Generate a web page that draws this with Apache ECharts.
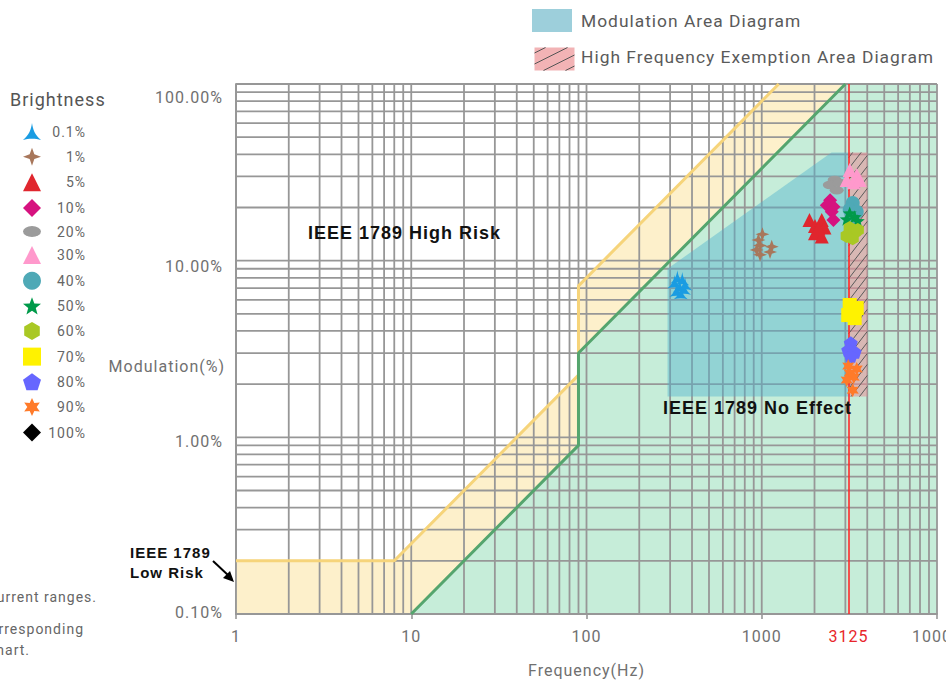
<!DOCTYPE html>
<html>
<head>
<meta charset="utf-8">
<script src="https://cdn.jsdelivr.net/npm/echarts@6/dist/echarts.min.js"></script>
<style>
  html, body { margin: 0; padding: 0; background: #ffffff; }
  #chart { width: 946px; height: 680px; }
  #chart svg text { letter-spacing: 1px; }
</style>
</head>
<body>
<div id="chart"></div>
<script>
// Axis ranges (frequency in Hz, modulation in %)
const X_MIN = 1, X_MAX = 10000;
const Y_MIN = 0.1, Y_MAX = 100;
const exemptFrequency = 3125;

// Brightness levels shown in the legend
const brightnessLevels = ['0.1%', '1%', '5%', '10%', '20%', '30%', '40%', '50%', '60%', '70%', '80%', '90%', '100%'];

// Measured points per brightness level: [frequency Hz, modulation %]
const b0_1 = [[318, 7.6], [330, 8.1], [340, 7.2], [352, 7.9], [360, 7.0], [326, 6.8], [345, 6.6], [365, 7.4]];
const b1 = [[1009, 14.1], [957, 13.1], [978, 12.2], [978, 10.8], [1140, 12.0], [1115, 11.2], [936, 11.5]];
const b5 = [[1872, 17.0], [2013, 15.7], [2199, 17.0], [2279, 15.4], [2013, 14.3], [2199, 13.7], [2105, 15.2]];
const b10 = [[2455, 22.0], [2351, 20.6], [2565, 20.2], [2509, 18.9], [2565, 17.0]];
const b20 = [[2605, 28.6], [2445, 26.8], [2785, 27.5], [2677, 25.0]];
const b30 = [[3175, 32.6], [3483, 30.5], [3053, 28.6], [3348, 27.8], [3622, 28.6]];
const b40 = [[3303, 21.2], [3175, 19.4], [3483, 18.9], [3260, 17.4]];
const b50 = [[3175, 18.6], [3390, 17.7], [3053, 17.2], [3533, 16.8]];
const b60 = [[3175, 15.3], [3390, 14.5], [3053, 13.8], [3303, 13.4], [3533, 14.9]];
const b70 = [[3175, 5.61], [3483, 5.39], [3115, 4.92], [3390, 4.73], [3260, 5.25]];
const b80 = [[3220, 3.42], [3115, 3.12], [3390, 3.04], [3220, 2.88]];
const b90 = [[3115, 2.53], [3483, 2.44], [3175, 2.31], [3348, 2.19], [3053, 2.11], [3303, 1.85]];
const b100 = [];

// IEEE 1789 boundary curves
const lowRiskLine = [[1, 0.2], [8, 0.2], [90, 2.25], [90, 7.2], [1250, 100]];
const noEffectLine = [[10, 0.1], [90, 0.9], [90, 3], [3000, 100]];
// Filled zones (polygons in data units)
const lowRiskArea = [[1, 0.1], [1, 0.2], [8, 0.2], [90, 2.25], [90, 7.2], [1250, 100], [10000, 100], [10000, 0.1]];
const noEffectArea = [[10, 0.1], [90, 0.9], [90, 3], [3000, 100], [10000, 100], [10000, 0.1]];
const modulationArea = [[290, 1.7], [290, 9.0], [2500, 41], [3125, 41], [3125, 1.7]];
const exemptArea = [[3125, 1.7], [3125, 41], [4000, 41], [4000, 1.7]];

// Log grid values (1..9 per decade)
const xGrid = [], yGrid = [];
for (let d = 1; d < X_MAX; d *= 10) for (let k = 1; k <= 9; k++) xGrid.push(k * d);
xGrid.push(X_MAX);
for (let d = 0.1; d < Y_MAX - 1e-9; d *= 10) for (let k = 1; k <= 9; k++) yGrid.push(+(k * d).toPrecision(6));
yGrid.push(Y_MAX);

// Marker shapes
function polyPath(n, r, rot) {
  let s = '';
  for (let i = 0; i < n; i++) {
    const a = rot + i * 2 * Math.PI / n;
    s += (i ? 'L' : 'M') + (r + r * Math.cos(a)).toFixed(2) + ',' + (r + r * Math.sin(a)).toFixed(2);
  }
  return 'path://' + s + 'Z';
}
function starPath(n, r, ri) {
  let s = '';
  for (let i = 0; i < 2 * n; i++) {
    const a = -Math.PI / 2 + i * Math.PI / n;
    const rr = i % 2 ? ri : r;
    s += (i ? 'L' : 'M') + (r + rr * Math.cos(a)).toFixed(2) + ',' + (r + rr * Math.sin(a)).toFixed(2);
  }
  return 'path://' + s + 'Z';
}
const symbols = [
  'path://M10,0 C11,7 13,13 20,19 C14,17 6,17 0,19 C7,13 9,7 10,0 Z',
  'path://M10,0 L12.6,7.4 L20,10 L12.6,12.6 L10,20 L7.4,12.6 L0,10 L7.4,7.4 Z',
  'triangle',
  'diamond',
  'path://M0,6 A10,6 0 1,1 20,6 A10,6 0 1,1 0,6 Z',
  'triangle',
  'circle',
  starPath(5, 10, 4.2),
  polyPath(6, 10, Math.PI / 2),
  'rect',
  polyPath(5, 10, -Math.PI / 2),
  starPath(6, 10, 5.2),
  'diamond'
];
const colors = ['#1a9ce2', '#a8775b', '#e0262e', '#d6127f', '#9b9b9b', '#ff99cc', '#4fa9b6', '#009a4a', '#a9c824', '#fff200', '#6666ff', '#ff7b2a', '#000000'];
const pointSets = [b0_1, b1, b5, b10, b20, b30, b40, b50, b60, b70, b80, b90, b100];

function areaSeries(points, fill, z) {
  return {
    type: 'custom', silent: true, z: z, clip: true,
    data: [points[0]],
    renderItem: function (p, api) {
      return { type: 'polygon', shape: { points: points.map(pt => api.coord(pt)) }, style: { fill: fill } };
    }
  };
}
function gridSeries(values, vertical) {
  return {
    type: 'custom', silent: true, z: 3,
    data: values.map(v => vertical ? [v, Y_MIN] : [X_MIN, v]),
    renderItem: function (p, api) {
      const v = api.value(vertical ? 0 : 1);
      const a = vertical ? api.coord([v, Y_MIN]) : api.coord([X_MIN, v]);
      const b = vertical ? api.coord([v, Y_MAX]) : api.coord([X_MAX, v]);
      return { type: 'line', shape: { x1: a[0], y1: a[1], x2: b[0], y2: b[1] }, style: { stroke: '#979797', lineWidth: 1.8 } };
    }
  };
}
// Diagonal hatch segments inside a rectangle: y = b - k*x
function hatch(x0, y0, x1, y1, k, step, stroke) {
  const out = [];
  for (let b = y0 + k * x0 + step / 2; b < y1 + k * x1; b += step) {
    const xa = Math.max(x0, (b - y1) / k), xb = Math.min(x1, (b - y0) / k);
    if (xa < xb) out.push({ type: 'line', shape: { x1: xa, y1: b - k * xa, x2: xb, y2: b - k * xb }, style: { stroke: stroke, lineWidth: 1 } });
  }
  return out;
}

const series = [
  areaSeries(lowRiskArea, '#fdf0cb', 1),
  areaSeries(noEffectArea, '#c6edd9', 2),
  gridSeries(xGrid, true),
  gridSeries(yGrid, false),
  areaSeries(modulationArea, 'rgba(80,178,205,0.44)', 4),
  {
    type: 'custom', silent: true, z: 4,
    data: [exemptArea[0]],
    renderItem: function (p, api) {
      const pts = exemptArea.map(pt => api.coord(pt));
      const xs = pts.map(q => q[0]), ys = pts.map(q => q[1]);
      const x0 = Math.min.apply(null, xs), x1 = Math.max.apply(null, xs);
      const y0 = Math.min.apply(null, ys), y1 = Math.max.apply(null, ys);
      return {
        type: 'group',
        children: [{ type: 'polygon', shape: { points: pts }, style: { fill: 'rgba(232,140,150,0.55)' } }]
          .concat(hatch(x0, y0, x1, y1, 1.3, 11, '#5a5a5a'))
      };
    }
  },
  {
    type: 'line', silent: true, z: 5, data: lowRiskLine, showSymbol: false, symbol: 'none',
    lineStyle: { color: '#f6d47a', width: 3 }
  },
  {
    type: 'line', silent: true, z: 5, data: noEffectLine, showSymbol: false, symbol: 'none',
    lineStyle: { color: '#55a56e', width: 3 },
    markLine: {
      silent: true, symbol: ['none', 'none'],
      lineStyle: { color: '#ff2a2a', width: 1.6, type: 'solid' },
      label: { show: true, position: 'start', formatter: String(exemptFrequency), color: '#e8262b', fontSize: 16, fontFamily: 'Roboto, sans-serif', distance: 14 },
      data: [{ xAxis: exemptFrequency }]
    }
  }
];
brightnessLevels.forEach(function (name, i) {
  series.push({
    type: 'scatter', name: name, z: 6, data: pointSets[i],
    symbol: symbols[i], symbolSize: 14, symbolKeepAspect: true,
    itemStyle: { color: colors[i], opacity: 1 }
  });
});

const chart = echarts.init(document.getElementById('chart'), null, { renderer: 'svg' });
const labelFont = 'Roboto, "Noto Sans", sans-serif';
const boldFont = '"Liberation Sans", Arial, sans-serif';
// y tick labels sit a little below their grid lines
const yLabelBase = { color: '#707070', fontSize: 16, fontFamily: labelFont };
const yLabelRich = {
  t100: Object.assign({ padding: [26, 0, 0, 0] }, yLabelBase),
  t10: Object.assign({ padding: [12, 0, 0, 0] }, yLabelBase),
  t1: Object.assign({ padding: [8, 0, 0, 0] }, yLabelBase),
  t01: Object.assign({ padding: [0, 0, 4, 0] }, yLabelBase)
};
function yLabelKey(v) {
  if (v >= 50) return 't100';
  if (v >= 5) return 't10';
  if (v >= 0.5) return 't1';
  return 't01';
}
chart.setOption({
  animation: false,
  backgroundColor: '#ffffff',
  grid: { left: 236, right: 9, top: 84, bottom: 66, containLabel: false, outerBoundsMode: 'none' },
  title: {
    text: 'Brightness', left: 10, top: 90, padding: 0,
    textStyle: { fontSize: 18, fontWeight: 'normal', color: '#555', fontFamily: labelFont }
  },
  legend: {
    orient: 'vertical', left: 23, top: 123, padding: 0, itemWidth: 18, itemHeight: 18, itemGap: 7.6,
    selectedMode: false, data: brightnessLevels,
    formatter: function (n) { return '{v|' + n + '}'; },
    textStyle: {
      color: '#666', fontSize: 14, fontFamily: labelFont,
      rich: { v: { width: 40, align: 'right', color: '#666', fontSize: 14, fontFamily: labelFont } }
    }
  },
  xAxis: {
    type: 'log', logBase: 10, min: X_MIN, max: X_MAX,
    axisLine: { show: true, lineStyle: { color: '#979797', width: 1.8 } },
    axisTick: { show: true, length: 5, lineStyle: { color: '#979797', width: 1.6 } },
    axisLabel: {
      color: '#707070', fontSize: 16, fontFamily: labelFont, margin: 14,
      formatter: function (v) { return String(Math.round(v)); }
    },
    splitLine: { show: false },
    name: 'Frequency(Hz)', nameLocation: 'middle', nameGap: 48,
    nameTextStyle: { color: '#707070', fontSize: 16, fontFamily: labelFont }
  },
  yAxis: {
    type: 'log', logBase: 10, min: Y_MIN, max: Y_MAX,
    axisLine: { show: true, lineStyle: { color: '#979797', width: 1.8 } },
    axisTick: { show: false },
    axisLabel: {
      color: '#707070', fontSize: 16, fontFamily: labelFont, margin: 13,
      formatter: function (v) { return '{' + yLabelKey(v) + '|' + Number(v).toFixed(2) + '%}'; },
      rich: yLabelRich
    },
    splitLine: { show: false }
  },
  graphic: [
    // y axis title
    { type: 'text', x: 225, y: 366, style: { text: 'Modulation(%)', fill: '#707070', font: '16px ' + labelFont, align: 'right', verticalAlign: 'middle' }, z: 100 },
    // top legend
    { type: 'rect', left: 532, top: 9, shape: { width: 40, height: 23 }, style: { fill: '#9dcfdb' }, z: 100 },
    { type: 'text', x: 581, y: 21, style: { text: 'Modulation Area Diagram', fill: '#5a5a5a', font: '17.4px ' + labelFont, verticalAlign: 'middle' }, z: 100 },
    {
      type: 'group', left: 532, top: 45, z: 100,
      children: [{ type: 'rect', shape: { x: 0, y: 0, width: 40, height: 23 }, style: { fill: '#f2b3b5' } }]
        .concat(hatch(0, 0, 40, 23, 0.5, 11, '#555'))
    },
    { type: 'text', x: 581, y: 57, style: { text: 'High Frequency Exemption Area Diagram', fill: '#5a5a5a', font: '17.4px ' + labelFont, verticalAlign: 'middle' }, z: 100 },
    // zone captions
    { type: 'text', x: 308, y: 233, style: { text: 'IEEE 1789 High Risk', fill: '#111', font: 'bold 18px ' + boldFont, verticalAlign: 'middle' }, z: 100 },
    { type: 'text', x: 663, y: 408, style: { text: 'IEEE 1789 No Effect', fill: '#111', font: 'bold 18px ' + boldFont, verticalAlign: 'middle' }, z: 100 },
    {
      type: 'text', x: 127, y: 540, z: 100,
      style: {
        text: 'IEEE 1789\nLow Risk', fill: '#111', font: 'bold 15px ' + boldFont,
        lineHeight: 20, backgroundColor: 'rgba(255,255,255,0.9)', padding: [2, 3]
      }
    },
    { type: 'line', shape: { x1: 213, y1: 561, x2: 229, y2: 576 }, style: { stroke: '#000', lineWidth: 2 }, z: 100 },
    { type: 'polygon', shape: { points: [[234, 582], [223, 578], [230, 571]] }, style: { fill: '#000' }, z: 100 },
    // side notes
    { type: 'text', x: 97, y: 597, style: { text: 'Note: data measured at different current ranges.', fill: '#666', font: '14px ' + labelFont, align: 'right', verticalAlign: 'middle' }, z: 100 },
    { type: 'text', x: 84, y: 629, style: { text: 'Each brightness level uses the corresponding', fill: '#666', font: '14px ' + labelFont, align: 'right', verticalAlign: 'middle' }, z: 100 },
    { type: 'text', x: 30, y: 650, style: { text: 'symbol in the chart.', fill: '#666', font: '14px ' + labelFont, align: 'right', verticalAlign: 'middle' }, z: 100 }
  ],
  series: series
});
</script>
</body>
</html>
